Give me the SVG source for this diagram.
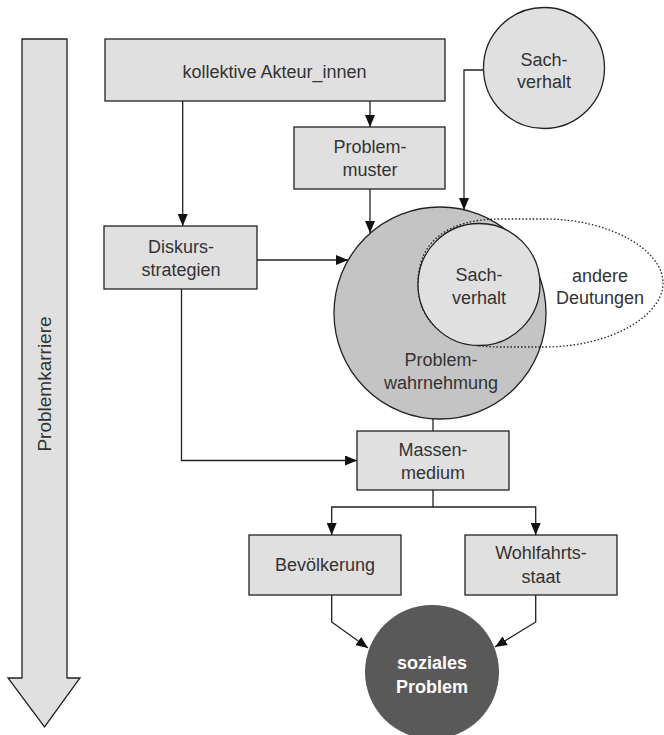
<svg xmlns="http://www.w3.org/2000/svg" width="664" height="735" viewBox="0 0 664 735">
<defs>
<marker id="ah" viewBox="0 0 12 10" markerWidth="12" markerHeight="10" refX="12" refY="5" orient="auto" markerUnits="userSpaceOnUse">
<path d="M0,0 L12,5 L0,10 z" fill="#111"/>
</marker>
<style>
.box{fill:#e0e0e0;stroke:#222;stroke-width:1.3}
.lbl{font-family:"Liberation Sans",Arial,sans-serif;font-size:18px;fill:#333;text-anchor:middle;dominant-baseline:central}
.con{fill:none;stroke:#222;stroke-width:1.3}
.arr{marker-end:url(#ah)}
</style>
</defs>
<rect width="664" height="735" fill="#fff"/>

<g id="problemkarriere">
<polygon class="box" points="22,39 67,39 67,678 80,678 44.5,727 8,678 22,678"/>
<text class="lbl" transform="translate(44,384) rotate(-90)" style="font-size:19px">Problemkarriere</text>
</g>

<g id="problemwahrnehmung">
<circle cx="440" cy="313" r="106" fill="#c4c4c4" stroke="#222" stroke-width="1.3"/>
<text class="lbl" x="441" y="360">Problem-</text>
<text class="lbl" x="441" y="383">wahrnehmung</text>
</g>

<g id="andere-deutungen">
<path d="M418,283 C418,240 450,219 500,219 L545,219 C610,219 663,250 663,283 C663,316 610,347 545,347 L500,347 C450,347 418,326 418,283 Z" fill="none" stroke="#222" stroke-width="1.3" stroke-dasharray="1.5,2"/>
<text class="lbl" x="600" y="276">andere</text>
<text class="lbl" x="600" y="298">Deutungen</text>
</g>

<g id="sachverhalt-innen">
<circle cx="479" cy="284.5" r="61" fill="#e0e0e0" stroke="#222" stroke-width="1.3"/>
<text class="lbl" x="479" y="275">Sach-</text>
<text class="lbl" x="479" y="298">verhalt</text>
</g>

<g id="connectors">
<path class="con arr" d="M182.7,101 V226"/>
<path class="con arr" d="M370,101 V127"/>
<path class="con arr" d="M370,189 V233"/>
<path class="con arr" d="M483.5,70 H464 V210"/>
<path class="con arr" d="M257,260 H348"/>
<path class="con arr" d="M181.5,289 V460.5 H357"/>
<path class="con" d="M433,419 V431"/>
<path class="con arr" d="M433,490 V507 H331.7 V535"/>
<path class="con arr" d="M433,507 H535.7 V535"/>
<path class="con arr" d="M331.7,595 V622 L368,648"/>
<path class="con arr" d="M535.7,595 V622 L495,647"/>
</g>

<g id="kollektive-akteurinnen">
<rect class="box" x="105" y="39" width="340" height="62"/>
<text class="lbl" x="274.5" y="72">kollektive Akteur_innen</text>
</g>

<g id="problemmuster">
<rect class="box" x="294" y="127" width="151" height="62"/>
<text class="lbl" x="370" y="147">Problem-</text>
<text class="lbl" x="370" y="170">muster</text>
</g>

<g id="sachverhalt">
<circle cx="544" cy="68" r="60.5" fill="#e0e0e0" stroke="#222" stroke-width="1.3"/>
<text class="lbl" x="544" y="60">Sach-</text>
<text class="lbl" x="544" y="82">verhalt</text>
</g>

<g id="diskursstrategien">
<rect class="box" x="104" y="226" width="153" height="63"/>
<text class="lbl" x="181" y="247">Diskurs-</text>
<text class="lbl" x="181" y="270">strategien</text>
</g>

<g id="massenmedium">
<rect class="box" x="357" y="431" width="152" height="59"/>
<text class="lbl" x="433" y="450">Massen-</text>
<text class="lbl" x="433" y="473">medium</text>
</g>

<g id="bevoelkerung">
<rect class="box" x="249" y="535" width="152" height="60"/>
<text class="lbl" x="325" y="565">Bevölkerung</text>
</g>

<g id="wohlfahrtsstaat">
<rect class="box" x="465" y="535" width="152" height="60"/>
<text class="lbl" x="541" y="553">Wohlfahrts-</text>
<text class="lbl" x="541" y="577">staat</text>
</g>

<g id="soziales-problem">
<circle cx="432" cy="672" r="67" fill="#595959"/>
<text class="lbl" x="432" y="663" style="fill:#fff;font-weight:bold">soziales</text>
<text class="lbl" x="432" y="687" style="fill:#fff;font-weight:bold">Problem</text>
</g>
</svg>
